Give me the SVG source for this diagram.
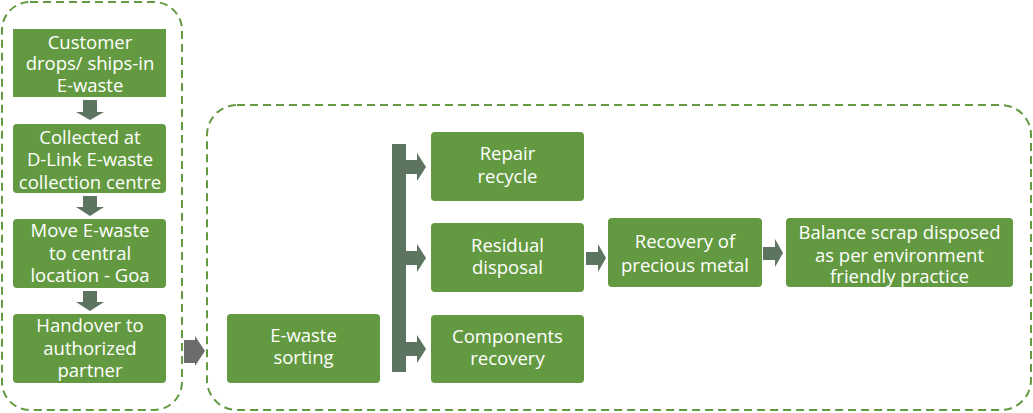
<svg xmlns="http://www.w3.org/2000/svg" width="1033" height="413" viewBox="0 0 1033 413">
<style>
.box{fill:#639a41;}
.cont{fill:none;stroke:#639a41;stroke-width:2;stroke-dasharray:8 5;}
.arr{fill:#5d7460;}
.garr{fill:#6b6d6b;}
text{font-family:"Open Sans","Noto Sans",sans-serif;font-size:18.5px;fill:#ffffff;text-anchor:middle;}
</style>
<rect width="1033" height="413" fill="#ffffff"/>
<g id="containers">
<rect class="cont" x="2" y="2" width="180" height="408" rx="28"/>
<rect class="cont" x="207" y="105" width="824" height="305" rx="30"/>
</g>
<g id="connectors">
<polygon class="arr" points="83,100 97,100 97,112 104,112 90,120 76,112 83,112"/>
<polygon class="arr" points="83,196 97,196 97,207 104,207 90,216 76,207 83,207"/>
<polygon class="arr" points="83,291 97,291 97,302 104,302 90,311 76,302 83,302"/>
<polygon class="garr" points="184,340 195,340 195,336 205,351 195,366 195,363 184,363"/>
<polygon class="arr" points="392,144 406,144 406,160 417,160 417,153 426,167 417,181 417,174 406,174 406,251 417,251 417,244 426,258 417,272 417,265 406,265 406,342 417,342 417,335 426,349 417,363 417,356 406,356 406,372 392,372"/>
<polygon class="arr" points="586,252 598,252 598,244 606,258 598,272 598,265 586,265"/>
<polygon class="arr" points="763,247 775,247 775,239 783,253 775,267 775,260 763,260"/>
</g>
<g id="n1"><rect class="box" x="13" y="29" width="153" height="68"/>
<text x="90" y="48.5">Customer</text><text x="90" y="70">drops/ ships-in</text><text x="90" y="92">E-waste</text></g>
<g id="n2"><rect class="box" x="13" y="124" width="153" height="69" rx="4"/>
<text x="90" y="143.5">Collected at</text><text x="90" y="166">D-Link E-waste</text><text x="90" y="188.5">collection centre</text></g>
<g id="n3"><rect class="box" x="13" y="219" width="153" height="69" rx="4"/>
<text x="90" y="237">Move E-waste</text><text x="90" y="259.5">to central</text><text x="90" y="282">location - Goa</text></g>
<g id="n4"><rect class="box" x="13" y="314" width="153" height="69" rx="4"/>
<text x="90" y="332">Handover to</text><text x="90" y="354.5">authorized</text><text x="90" y="377">partner</text></g>
<g id="n5"><rect class="box" x="227" y="314" width="153" height="69" rx="4"/>
<text x="303.5" y="342">E-waste</text><text x="303.5" y="364">sorting</text></g>
<g id="n6"><rect class="box" x="431" y="132" width="153" height="69" rx="4"/>
<text x="507.5" y="160">Repair</text><text x="507.5" y="183">recycle</text></g>
<g id="n7"><rect class="box" x="431" y="223" width="153" height="69" rx="4"/>
<text x="507.5" y="251.5">Residual</text><text x="507.5" y="274">disposal</text></g>
<g id="n8"><rect class="box" x="431" y="315" width="153" height="68" rx="4"/>
<text x="507.5" y="343">Components</text><text x="507.5" y="365">recovery</text></g>
<g id="n9"><rect class="box" x="608" y="218" width="154" height="69" rx="4"/>
<text x="685" y="248">Recovery of</text><text x="685" y="272">precious metal</text></g>
<g id="n10"><rect class="box" x="786" y="218" width="227" height="69" rx="4"/>
<text x="899.5" y="239">Balance scrap disposed</text><text x="899.5" y="262">as per environment</text><text x="899.5" y="283">friendly practice</text></g>
</svg>
